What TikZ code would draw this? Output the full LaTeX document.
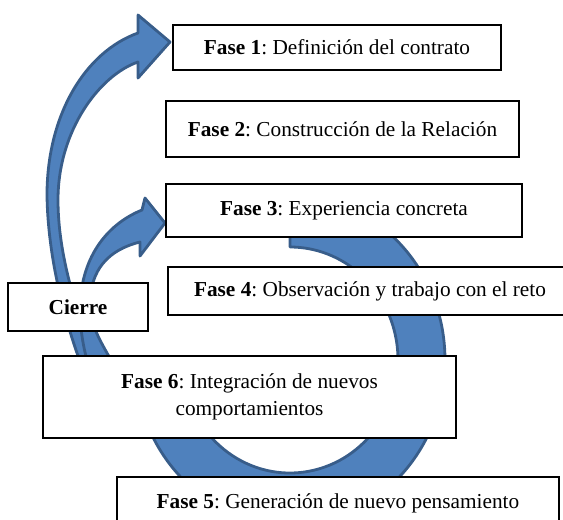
\documentclass[tikz,border=0pt]{standalone}
\usepackage{fontspec}
\setmainfont{Liberation Serif}
\usetikzlibrary{calc}
\frenchspacing
\definecolor{arrfill}{RGB}{79,129,189}
\definecolor{arrline}{RGB}{56,93,138}
\tikzset{
  blockarrow/.style={fill=arrfill, draw=arrline, line width=2.8pt, line join=round},
  phasebox/.style={draw=black, fill=white, line width=1.3pt, inner sep=0pt, align=center,
    font=\fontsize{21.3}{27}\selectfont},
}
\begin{document}
\begin{tikzpicture}[x=1pt, y=-1pt]
\useasboundingbox (0,0) rectangle (563,520);
% ring (circular band)
\coordinate (rc) at (290,360);
\filldraw[blockarrow] ($(rc)+(-90:155 and 165)$) arc[start angle=-90, end angle=170, x radius=155, y radius=165]
  -- ($(rc)+(170:108 and 113)$) arc[start angle=170, end angle=-90, x radius=108, y radius=113] -- cycle;
% curved arrow to Fase 1
\filldraw[blockarrow] (100,410) .. controls (72,350) and (48,270) .. (47,195)
  .. controls (47,115) and (85,52) .. (138,33)
  -- (138,15) -- (170,42) -- (138,78) -- (138,62)
  .. controls (100,75) and (58,130) .. (58,200)
  .. controls (58,260) and (80,330) .. (118,410) -- cycle;
% curved arrow to Fase 3
\filldraw[blockarrow] (110,420) .. controls (95,390) and (80,350) .. (80,310)
  .. controls (80,260) and (105,225) .. (142,210)
  -- (145,198) -- (165,223) -- (140,256) -- (140,242)
  .. controls (108,250) and (90,270) .. (90,305)
  .. controls (90,330) and (105,348) .. (140,410) -- cycle;
% boxes
\node[phasebox, minimum width=328pt, minimum height=45pt] (f1) at (337,47.5) {\textbf{Fase 1}: Definición del contrato};
\node[phasebox, minimum width=353pt, minimum height=56pt] (f2) at (342.5,129) {\textbf{Fase 2}: Construcción de la Relación};
\node[phasebox, minimum width=356pt, minimum height=53pt] (f3) at (344,210.5) {\textbf{Fase 3}: Experiencia concreta};
\node[phasebox, minimum width=404pt, minimum height=48pt] (f4) at (370,291) {\textbf{Fase 4}: Observación y trabajo con el reto};
\node[phasebox, minimum width=140pt, minimum height=48pt] (ci) at (78,307) {\textbf{Cierre}};
\node[phasebox, minimum width=413pt, minimum height=82pt] (f6) at (249.5,397) {\textbf{Fase 6}: Integración de nuevos\\comportamientos};
\node[phasebox, minimum width=442pt, minimum height=52pt] (f5) at (338,503) {\textbf{Fase 5}: Generación de nuevo pensamiento};
\end{tikzpicture}
\end{document}
